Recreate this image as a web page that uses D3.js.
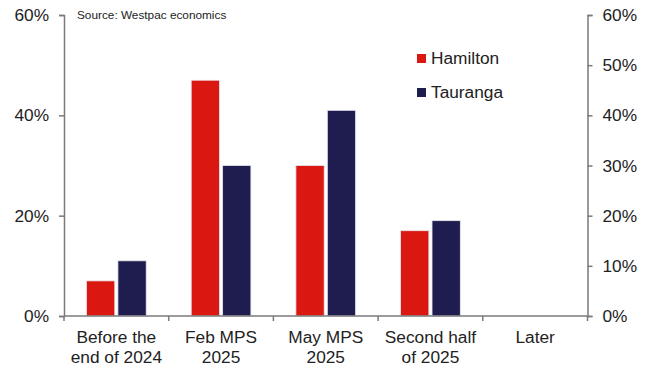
<!DOCTYPE html>
<html>
<head>
<meta charset="utf-8">
<script src="https://cdn.jsdelivr.net/npm/d3@7"></script>
<style>
  body { margin: 0; background: #fff; }
  svg { display: block; font-family: "Liberation Sans", Arial, sans-serif; }
</style>
</head>
<body>
<svg id="chart" width="654" height="369"></svg>
<script>
// Expected timing of the first OCR cut, by survey respondents
const categories = [["Before the", "end of 2024"], ["Feb MPS", "2025"], ["May MPS", "2025"], ["Second half", "of 2025"], ["Later"]];
const seriesNames = ["Hamilton", "Tauranga"];
const hamilton = [7, 47, 30, 17, 0];
const tauranga = [11, 30, 41, 19, 0];
const leftTicks = [0, 20, 40, 60];
const rightTicks = [0, 10, 20, 30, 40, 50, 60];
const colors = ["#DA1710", "#1F1C4F"];

const svg = d3.select("#chart");
const W = 654, H = 369;
const margin = { left: 64, right: W - 587.5, top: 15, bottom: H - 316 };
const fontSize = 17.3;

const x = d3.scaleBand()
  .domain(d3.range(categories.length))
  .range([margin.left, W - margin.right])
  .paddingInner(0).paddingOuter(0);

const y = d3.scaleLinear().domain([0, 60]).range([H - margin.bottom, margin.top]);

// Bar pair sits in the middle of each category band
const sidePad = 22.5;
const inner = d3.scaleBand().domain(seriesNames)
  .range([sidePad, x.bandwidth() - sidePad])
  .paddingInner(0.1).paddingOuter(0);

const axisColor = "#7a7a7a";
const textColor = "#222";

// Bars
const series = [hamilton, tauranga];
series.forEach((vals, si) => {
  svg.append("g").selectAll("rect")
    .data(vals.map((v, i) => ({ v, i })).filter(d => d.v > 0))
    .join("rect")
    .attr("x", d => x(d.i) + inner(seriesNames[si]))
    .attr("width", inner.bandwidth())
    .attr("y", d => y(d.v))
    .attr("height", d => y(0) - y(d.v))
    .attr("fill", colors[si])
    .attr("stroke", "#e6e6ee")
    .attr("stroke-width", 0.8);
});

// Left axis
const leftAxis = svg.append("g")
  .attr("transform", `translate(${margin.left},0)`)
  .call(d3.axisLeft(y).tickValues(leftTicks).tickFormat(d => d + "%").tickSize(5).tickPadding(10));

// Right axis
const rightAxis = svg.append("g")
  .attr("transform", `translate(${W - margin.right},0)`)
  .call(d3.axisRight(y).tickValues(rightTicks).tickFormat(d => d + "%").tickSize(5).tickPadding(10));

// Bottom axis with ticks at band boundaries
const bottom = svg.append("g").attr("transform", `translate(0,${y(0)})`);
bottom.append("line")
  .attr("x1", margin.left).attr("x2", W - margin.right)
  .attr("stroke", axisColor).attr("stroke-width", 1.5);
bottom.selectAll("line.tick")
  .data(d3.range(categories.length + 1))
  .join("line")
  .attr("class", "tick")
  .attr("x1", i => x.range()[0] + i * x.step())
  .attr("x2", i => x.range()[0] + i * x.step())
  .attr("y1", 0).attr("y2", 5)
  .attr("stroke", axisColor).attr("stroke-width", 1.5);

const labels = bottom.selectAll("text.cat")
  .data(categories)
  .join("text")
  .attr("class", "cat")
  .attr("text-anchor", "middle")
  .attr("fill", textColor)
  .attr("font-size", fontSize)
  .attr("transform", (d, i) => `translate(${x(i) + x.bandwidth() / 2},26.5)`);
labels.selectAll("tspan")
  .data(d => d)
  .join("tspan")
  .attr("x", 0)
  .attr("dy", (d, j) => j === 0 ? 0 : 20.5)
  .text(d => d);

[leftAxis, rightAxis].forEach(g => {
  g.select(".domain").attr("stroke", axisColor).attr("stroke-width", 1.5);
  g.selectAll(".tick line").attr("stroke", axisColor).attr("stroke-width", 1.5);
  g.selectAll(".tick text").attr("fill", textColor).attr("font-size", fontSize)
    .attr("font-family", "'Liberation Sans', Arial, sans-serif");
});

// Source note
svg.append("text")
  .attr("x", 77).attr("y", 19)
  .attr("font-size", 11.8).attr("fill", textColor)
  .text("Source: Westpac economics");

// Legend
const legend = svg.append("g").attr("transform", "translate(417,0)");
seriesNames.forEach((name, i) => {
  const cy = 58.5 + i * 34;
  legend.append("rect")
    .attr("x", 0).attr("y", cy - 4.5)
    .attr("width", 9).attr("height", 9)
    .attr("fill", colors[i]);
  legend.append("text")
    .attr("x", 14).attr("y", cy + 5.5)
    .attr("font-size", fontSize).attr("fill", textColor)
    .text(name);
});
</script>
</body>
</html>
